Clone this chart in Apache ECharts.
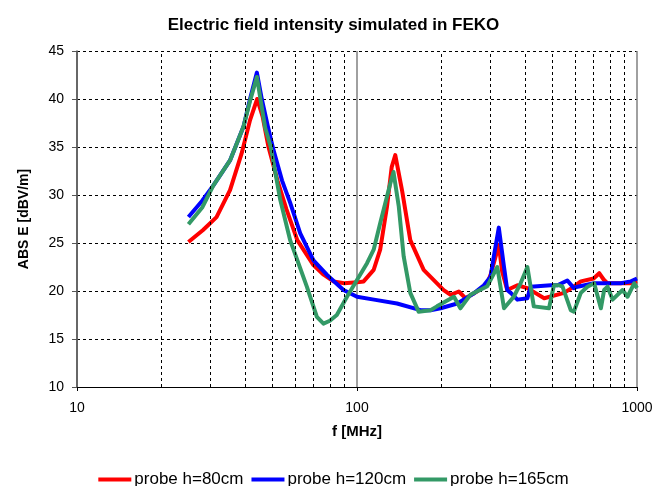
<!DOCTYPE html>
<html>
<head>
<meta charset="utf-8">
<script src="https://cdn.jsdelivr.net/npm/echarts@6/dist/echarts.min.js"></script>
<style>
html,body{margin:0;padding:0;background:#fff;}
#main{width:667px;height:486px;}
</style>
</head>
<body>
<div id="main"></div>
<script>
// frequencies in MHz, values in dBV/m
const redF = [25, 28.2, 31.5, 35.2, 38.7, 41.5, 44, 46, 48.3, 52, 56, 61.2, 69.9, 76, 82.4, 90, 100, 105.6, 114.7, 121, 128, 133, 137, 145, 155, 173, 204, 216, 231, 244, 270, 292, 300, 312, 321, 330, 344, 374, 406, 466, 549, 595, 630, 700, 733, 760, 785, 951, 1000];
const redV = [25.1, 26.35, 27.7, 30.5, 34.3, 37.8, 40.0, 38.2, 35.0, 31.5, 28.5, 25.3, 22.7, 21.7, 21.0, 20.8, 20.9, 21.0, 22.2, 24.3, 28.8, 32.9, 34.15, 30.4, 25.3, 22.2, 20.1, 19.6, 19.95, 19.25, 20.0, 20.8, 21.7, 23.5, 24.8, 22.0, 20.1, 20.6, 20.3, 19.25, 19.8, 20.45, 21.0, 21.3, 21.85, 21.2, 20.8, 20.8, 21.0];

const blueF = [25, 28, 30.7, 35.2, 39.3, 41.5, 43.9, 45.7, 48, 50.3, 54, 57.7, 62.7, 69.9, 78, 89.5, 100, 115, 139, 168.5, 183, 199, 228, 260, 284, 300, 308, 321, 335, 344, 354, 374, 406, 417, 492, 520, 564, 595, 613, 703, 875, 951, 1000];
const blueV = [27.7, 29.4, 31.0, 33.6, 37.1, 40.0, 42.75, 40.0, 37.2, 34.7, 31.5, 29.2, 26.0, 23.2, 21.7, 20.1, 19.4, 19.1, 18.7, 18.0, 18.0, 18.2, 18.7, 19.7, 20.6, 21.5, 23.6, 26.6, 22.5, 20.1, 19.8, 19.1, 19.25, 20.45, 20.6, 20.6, 21.1, 20.3, 20.45, 20.8, 20.8, 21.0, 21.3];

const greenF = [25, 28, 30.7, 35.2, 39.3, 41.5, 43.9, 45.2, 47, 49.2, 53.2, 57.7, 66.2, 71.9, 75.9, 80, 84.7, 92.1, 100, 108.6, 114.7, 121, 131.5, 135, 141, 146.8, 155, 166, 183, 193, 222, 234, 254, 292, 317, 335, 363, 384, 406, 428, 485, 505, 527, 542, 580, 595, 630, 665, 703, 743, 763, 785, 818, 888, 925, 977, 1000];
const greenV = [26.95, 28.7, 31.0, 33.6, 37.1, 39.8, 42.3, 40.0, 37.0, 35.0, 29.5, 25.3, 20.45, 17.3, 16.6, 16.9, 17.5, 19.4, 21.15, 22.9, 24.3, 27.05, 31.2, 32.4, 28.8, 23.6, 19.8, 17.85, 18.0, 18.4, 19.4, 18.2, 19.6, 20.5, 22.5, 18.2, 19.4, 20.8, 22.5, 18.4, 18.2, 20.6, 20.6, 20.45, 18.0, 17.85, 19.8, 20.45, 20.8, 18.2, 20.1, 20.45, 19.1, 20.1, 19.4, 20.8, 20.3];

// minor log grid lines
const minorF = [20, 30, 40, 50, 60, 70, 80, 90, 200, 300, 400, 500, 600, 700, 800, 900];

const names = ['probe h=80cm', 'probe h=120cm', 'probe h=165cm'];
const colors = ['#ff0000', '#0000ff', '#339966'];

function zip(f, v){
    let out = [];
    for (let i = 0; i < f.length; i++) {
        out.push([f[i], v[i]]);
    }
    return out;
}

let myChart = echarts.init(document.getElementById('main'));
let option = {
    animation: false,
    title: {
        text: 'Electric field intensity simulated in FEKO',
        left: 'center',
        top: 12,
        textStyle: {fontFamily: 'Liberation Sans', fontSize: 17, fontWeight: 'bold', color: '#000'}
    },
    legend: {
        data: names,
        left: 'center',
        top: 466,
        icon: 'rect',
        itemWidth: 33,
        itemHeight: 4,
        itemGap: 8,
        textStyle: {fontFamily: 'Liberation Sans', fontSize: 17, color: '#000', padding: [0, 0, 0, -2]}
    },
    grid: {left: 77, right: 30, top: 51, bottom: 99},
    xAxis: {
        type: 'log',
        logBase: 10,
        min: 10,
        max: 1000,
        name: 'f [MHz]',
        nameLocation: 'middle',
        nameGap: 37,
        nameTextStyle: {fontFamily: 'Liberation Sans', fontSize: 15, fontWeight: 'bold', color: '#000'},
        axisLine: {lineStyle: {color: '#000', width: 1}},
        axisTick: {show: true, length: 4, lineStyle: {color: '#000'}},
        axisLabel: {fontFamily: 'Liberation Sans', fontSize: 14, color: '#000', margin: 14,
            formatter: v => String(Math.round(v))},
        splitLine: {show: true, lineStyle: {color: '#808080', width: 1.5}}
    },
    yAxis: {
        type: 'value',
        min: 10,
        max: 45,
        interval: 5,
        name: 'ABS E [dBV/m]',
        nameLocation: 'middle',
        nameGap: 46,
        nameTextStyle: {fontFamily: 'Liberation Sans', fontSize: 14, fontWeight: 'bold', color: '#000'},
        axisLine: {show: true, lineStyle: {color: '#555', width: 1.5}},
        axisTick: {show: true, length: 5, lineStyle: {color: '#555'}},
        axisLabel: {fontFamily: 'Liberation Sans', fontSize: 14, color: '#000', margin: 13},
        splitLine: {show: true, lineStyle: {color: '#000', width: 1, type: [3, 3]}}
    },
    series: [
        {
            name: 'grid',
            type: 'line',
            data: [],
            z: 1,
            markLine: {
                silent: true,
                symbol: 'none',
                label: {show: false},
                lineStyle: {color: '#000', width: 1, type: [3, 3]},
                data: minorF.map(f => ({xAxis: f}))
            }
        },
        {name: names[0], type: 'line', data: zip(redF, redV)},
        {name: names[1], type: 'line', data: zip(blueF, blueV)},
        {name: names[2], type: 'line', data: zip(greenF, greenV)}
    ]
};
for (let i = 1; i <= 3; i++) {
    let s = option.series[i];
    s.showSymbol = false;
    s.symbol = 'none';
    s.z = 3;
    s.color = colors[i - 1];
    s.lineStyle = {color: colors[i - 1], width: 4, join: 'round'};
}
myChart.setOption(option);
</script>
</body>
</html>
